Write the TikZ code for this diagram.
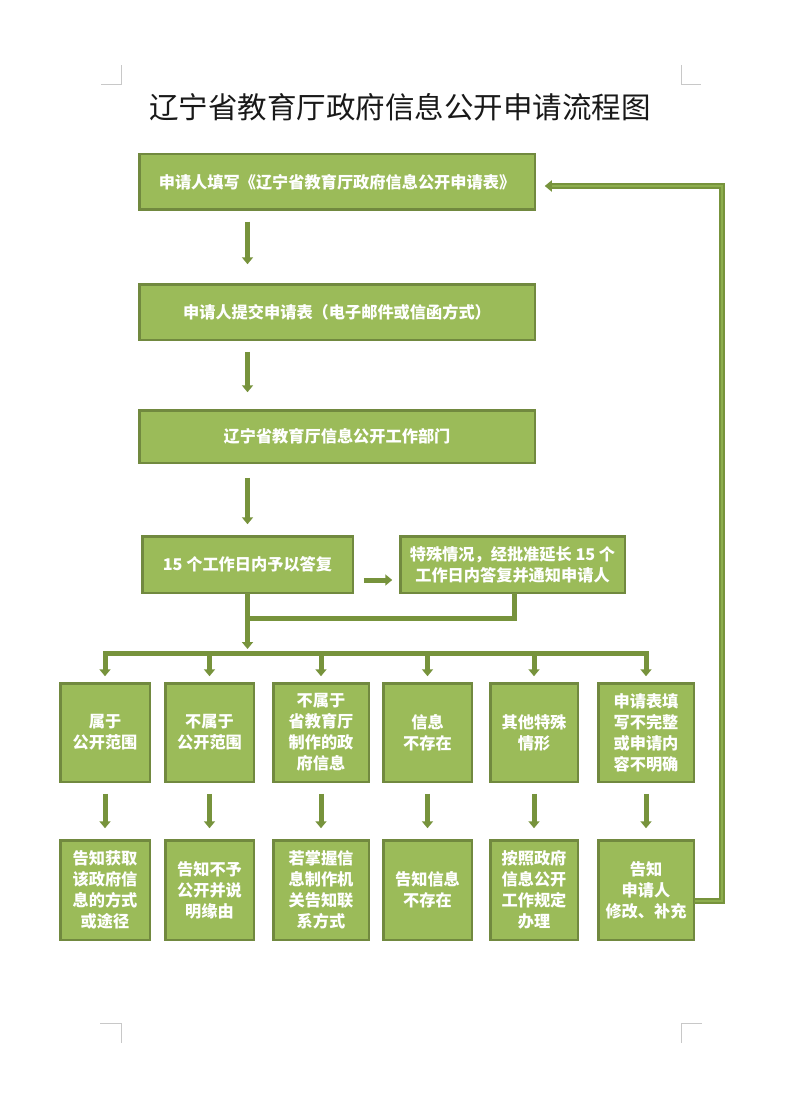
\documentclass[tikz,border=0pt]{standalone}
\usepackage{fontspec}
\setmainfont{Noto Sans CJK SC}
\usetikzlibrary{arrows.meta,calc}
\definecolor{boxfill}{HTML}{9BBB59}
\definecolor{boxline}{HTML}{71893F}
\definecolor{arr}{HTML}{77933C}
\definecolor{arrlight}{HTML}{8DAE4E}
\definecolor{markgray}{HTML}{C8C8C8}
\tikzset{
 gbox/.style={draw=boxline, line width=2.5pt, fill=boxfill, text=white,
   font=\fontsize{16.2}{21}\selectfont\bfseries, align=center, inner sep=0pt, outer sep=0pt},
 garrow/.style={draw=arr, line width=5pt, -{Triangle[width=11pt,length=7pt]}},
 gline/.style={draw=arr, line width=5pt},
 cropmark/.style={draw=markgray, line width=1pt},
}
\begin{document}
\begin{tikzpicture}[x=1pt,y=-1pt]
\path[use as bounding box, fill=white] (0,0) rectangle (800,1107);
% crop marks
\draw[cropmark] (101,85) -- (121,85) -- (121,65);
\draw[cropmark] (681,65) -- (681,85) -- (701,85);
\draw[cropmark] (100,1023) -- (121,1023) -- (121,1043);
\draw[cropmark] (702,1023) -- (681,1023) -- (681,1043);
% title
\node[font=\fontsize{29.5}{34}\selectfont, text=black!90] (title) at (400,107) {辽宁省教育厅政府信息公开申请流程图};
% main boxes
\node[gbox, minimum width=395.5pt, minimum height=55.5pt] (b1) at (337,182) {申请人填写《辽宁省教育厅政府信息公开申请表》};
\node[gbox, minimum width=395.5pt, minimum height=55.5pt] (b2) at (337,312) {申请人提交申请表（电子邮件或信函方式）};
\node[gbox, minimum width=395.5pt, minimum height=52.5pt] (b3) at (337,436.5) {辽宁省教育厅信息公开工作部门};
\node[gbox, minimum width=210.5pt, minimum height=56.5pt] (b4) at (247.5,564.5) {15 个工作日内予以答复};
\node[gbox, minimum width=224.5pt, minimum height=56.5pt] (b5) at (512.5,564.5) {特殊情况，经批准延长 15 个\\工作日内答复并通知申请人};
% row 1
\node[gbox, minimum width=89.5pt, minimum height=98.5pt] (r1c1) at (105,732.5) {属于\\公开范围};
\node[gbox, minimum width=88.5pt, minimum height=98.5pt] (r1c2) at (209.5,732.5) {不属于\\公开范围};
\node[gbox, minimum width=95.5pt, minimum height=98.5pt] (r1c3) at (321,732.5) {不属于\\省教育厅\\制作的政\\府信息};
\node[gbox, minimum width=88.5pt, minimum height=98.5pt] (r1c4) at (427.5,732.5) {信息\\不存在};
\node[gbox, minimum width=87.5pt, minimum height=98.5pt] (r1c5) at (534,732.5) {其他特殊\\情形};
\node[gbox, minimum width=95.5pt, minimum height=98.5pt] (r1c6) at (646,732.5) {申请表填\\写不完整\\或申请内\\容不明确};
% row 2
\node[gbox, minimum width=89.5pt, minimum height=99.5pt] (r2c1) at (105,890) {告知获取\\该政府信\\息的方式\\或途径};
\node[gbox, minimum width=88.5pt, minimum height=99.5pt] (r2c2) at (209.5,890) {告知不予\\公开并说\\明缘由};
\node[gbox, minimum width=95.5pt, minimum height=99.5pt] (r2c3) at (321,890) {若掌握信\\息制作机\\关告知联\\系方式};
\node[gbox, minimum width=88.5pt, minimum height=99.5pt] (r2c4) at (427.5,890) {告知信息\\不存在};
\node[gbox, minimum width=87.5pt, minimum height=99.5pt] (r2c5) at (534,890) {按照政府\\信息公开\\工作规定\\办理};
\node[gbox, minimum width=95.5pt, minimum height=99.5pt] (r2c6) at (646,890) {告知\\申请人\\修改、补充};
% vertical arrows in main column
\draw[garrow, shorten <=12pt, shorten >=20pt] (b1.south -| b4.north) -- (b2.north -| b4.north);
\draw[garrow, shorten <=12pt, shorten >=18pt] (b2.south -| b4.north) -- (b3.north -| b4.north);
\draw[garrow, shorten <=15pt, shorten >=12pt] (b3.south -| b4.north) -- (b4.north);
% horizontal arrow b4 -> b5
\draw[garrow, shorten <=11pt, shorten >=8pt] ($(b4.east)+(0,15.5)$) -- ($(b5.west)+(0,15.5)$);
% join and bus
\coordinate (j) at (0,618);
\coordinate (bus) at (0,653);
\draw[gline] ($(b5.south)+(1.5,0)$) -- ($(b5.south |- j)+(1.5,0)$) -- (b4.south |- j);
\draw[garrow, shorten >=4pt] (b4.south) -- (b4.south |- bus);
\draw[gline, line cap=rect] (r1c1.north |- bus) -- (r1c6.north |- bus);
\foreach \c in {1,...,6}{
  \draw[garrow, shorten >=7pt] (r1c\c.north |- bus) -- (r1c\c.north);
  \draw[garrow, shorten <=12pt, shorten >=12pt] (r1c\c.south) -- (r2c\c.north);
}
% feedback line
\coordinate (f1) at ($(r2c6.east)+(0,11)$);
\coordinate (f2) at (722,901);
\coordinate (f3) at (722,186);
\coordinate (f4) at ($(b1.east)+(0,4)$);
\draw[draw=arr, line width=5.5pt, -{Triangle[width=11pt,length=7pt]}, shorten >=10pt] (f1) -- (f2) -- (f3) -- (f4);
\draw[draw=arrlight, line width=1.8pt, shorten >=17pt] ($(f1)+(1,0)$) -- (f2) -- (f3) -- (f4);
\end{tikzpicture}
\end{document}
